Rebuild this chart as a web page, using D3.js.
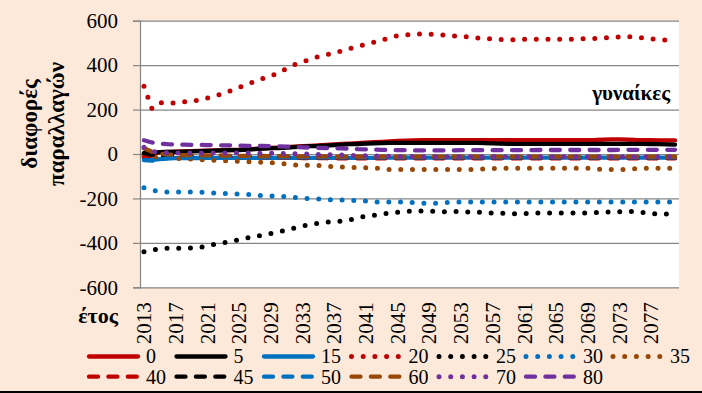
<!DOCTYPE html>
<html>
<head>
<meta charset="utf-8">
<script src="https://cdn.jsdelivr.net/npm/d3@7"></script>
<style>
  html, body { margin: 0; padding: 0; background: #FDE9D9; }
  svg { display: block; }
  svg text { font-family: "Liberation Serif", "Times New Roman", serif; }
</style>
</head>
<body>
<svg id="chart" width="702" height="393"></svg>
<script>
// ---------- DATA ----------
const years = [2013,2014,2015,2016,2017,2018,2019,2020,2021,2022,
  2023,2024,2025,2026,2027,2028,2029,2030,2031,2032,
  2033,2034,2035,2036,2037,2038,2039,2040,2041,2042,
  2043,2044,2045,2046,2047,2048,2049,2050,2051,2052,
  2053,2054,2055,2056,2057,2058,2059,2060,2061,2062,
  2063,2064,2065,2066,2067,2068,2069,2070,2071,2072,
  2073,2074,2075,2076,2077,2078,2079,2080];

const yTicks = [600, 400, 200, 0, -200, -400, -600];
const seriesNames = ["0","5","15","20","25","30","35","40","45","50","60","70","80"];

const s0 = [-12,2,8,10,11,12,13,14,15,16, 17,18,19,21,23,25,27,29,31,33,
  35,37,39,41,43,45,47,49,51,53, 55,57,59,60,61,62,62,62,62,62,
  62,62,62,62,62,62,62,62,62,62, 62,62,62,62,62,62,62,63,65,66,
  66,65,63,62,62,61,61,61];
const s5 = [0,5,8,9,10,11,12,13,14,15, 16,17,18,20,22,24,26,27,29,31,
  33,35,36,38,40,42,44,45,47,48, 49,50,50,50,50,50,50,50,50,50,
  50,50,50,49,48,47,46,46,46,46, 46,46,46,46,46,46,46,46,46,46,
  46,46,46,46,45,44,43,42];
const s15 = [-20,-26,-23,-20,-19,-18,-18,-18,-17,-17, -17,-17,-17,-17,-17,-17,-17,-17,-17,-17,
  -17,-17,-17,-17,-17,-17,-17,-17,-17,-17, -16,-16,-16,-16,-16,-16,-16,-16,-16,-16,
  -16,-16,-16,-16,-16,-16,-16,-16,-16,-16, -16,-16,-16,-16,-16,-16,-16,-16,-16,-16,
  -16,-16,-16,-16,-16,-16,-16,-16];
const s20 = [305,205,232,228,231,235,238,243,252,262, 272,286,300,314,327,340,351,366,385,402,
  414,426,438,447,454,465,475,485,494,503, 512,524,532,536,539,540,540,538,535,532,
  530,527,523,520,517,515,514,515,516,516, 516,516,516,516,517,518,519,520,522,524,
  527,528,526,522,518,515,512,510];
const s25 = [-440,-432,-426,-424,-424,-424,-423,-421,-413,-406, -400,-394,-385,-378,-373,-365,-358,-350,-342,-333,
  -324,-318,-312,-307,-304,-302,-296,-287,-280,-276, -271,-266,-262,-259,-257,-257,-257,-258,-260,-259,
  -259,-261,-261,-263,-266,-266,-267,-269,-268,-266, -266,-266,-266,-266,-266,-266,-266,-264,-261,-261,
  -260,-257,-260,-263,-268,-270,-270,-270];
const s30 = [-152,-163,-168,-171,-171,-171,-171,-171,-173,-176, -178,-179,-180,-182,-184,-188,-189,-190,-192,-195,
  -198,-202,-202,-204,-207,-207,-209,-210,-212,-215, -217,-216,-216,-217,-219,-221,-222,-221,-219,-216,
  -216,-216,-216,-216,-216,-216,-216,-216,-216,-216, -216,-216,-216,-216,-216,-216,-216,-216,-216,-216,
  -216,-216,-216,-216,-216,-216,-216,-216];
const s35 = [-5,-12,-15,-17,-19,-21,-23,-25,-27,-28, -30,-31,-33,-35,-36,-38,-39,-41,-45,-49,
  -50,-51,-52,-55,-57,-59,-61,-61,-62,-62, -66,-70,-70,-70,-70,-70,-70,-70,-70,-70,
  -70,-70,-68,-67,-65,-64,-64,-64,-64,-64, -64,-64,-64,-64,-64,-64,-64,-67,-70,-70,
  -70,-70,-66,-64,-64,-64,-64,-64];
const s40 = [-15,-6,-8,-9,-10,-10,-11,-11,-12,-12, -13,-13,-14,-14,-15,-15,-16,-16,-17,-17,
  -18,-18,-19,-19,-20,-20,-20,-20,-20,-20, -20,-20,-20,-20,-20,-20,-20,-20,-20,-20,
  -20,-20,-20,-20,-20,-20,-20,-20,-20,-20, -20,-20,-20,-20,-20,-20,-20,-20,-20,-20,
  -20,-20,-20,-20,-20,-20,-20,-20];
const s45 = [5,-4,-6,-7,-8,-8,-9,-9,-10,-10, -11,-11,-11,-12,-12,-12,-13,-13,-13,-14,
  -14,-14,-14,-14,-14,-14,-14,-14,-14,-14, -14,-14,-14,-14,-14,-14,-14,-14,-14,-14,
  -14,-14,-14,-14,-14,-14,-14,-14,-14,-14, -14,-14,-14,-14,-14,-14,-14,-14,-14,-14,
  -14,-14,-14,-14,-14,-14,-14,-14];
const s50 = [-28,-30,-25,-19,-17,-16,-15,-15,-15,-15, -15,-15,-15,-15,-15,-15,-15,-15,-15,-15,
  -15,-15,-15,-15,-15,-15,-15,-15,-15,-15, -15,-15,-15,-15,-15,-15,-15,-15,-15,-15,
  -15,-15,-15,-15,-15,-15,-15,-15,-15,-15, -15,-15,-15,-15,-15,-15,-15,-15,-15,-15,
  -15,-15,-15,-15,-15,-15,-15,-15];
const s60 = [26,10,2,-2,-4,-5,-5,-6,-6,-6, -7,-7,-8,-8,-9,-9,-10,-10,-10,-10,
  -11,-11,-11,-11,-12,-12,-12,-12,-12,-12, -12,-12,-12,-12,-12,-12,-12,-12,-12,-12,
  -12,-12,-12,-12,-12,-12,-12,-12,-12,-12, -12,-12,-12,-12,-12,-12,-12,-12,-12,-12,
  -12,-12,-12,-12,-12,-12,-12,-12];
const s70 = [30,12,6,5,5,5,5,5,5,5, 4,4,4,4,4,3,3,3,2,1,
  0,-1,-2,-3,-4,-5,-6,-7,-8,-9, -10,-10,-11,-11,-12,-12,-12,-12,-12,-12,
  -12,-12,-12,-12,-12,-12,-12,-12,-12,-12, -12,-12,-12,-12,-12,-12,-12,-12,-12,-12,
  -12,-12,-12,-12,-12,-12,-12,-12];
const s80 = [62,52,46,44,43,42,41,41,40,40, 39,39,38,37,36,36,35,34,33,32,
  30,29,28,27,26,25,24,22,21,20, 19,18,17,17,16,16,16,16,16,16,
  17,17,17,17,17,17,17,17,17,17, 18,18,18,18,18,18,18,18,18,18,
  19,19,19,19,19,19,19,19];

const seriesValues = [s0,s5,s15,s20,s25,s30,s35,s40,s45,s50,s60,s70,s80];

// ---------- STYLES ----------
const RED = "#C00000", BLACK = "#000000", BLUE = "#0070C0", BROWN = "#974806", PURPLE = "#7030A0";
const styleFor = {
  "0":  {color: RED,    dash: "solid"},
  "5":  {color: BLACK,  dash: "solid"},
  "15": {color: BLUE,   dash: "solid"},
  "20": {color: RED,    dash: "dot"},
  "25": {color: BLACK,  dash: "dot"},
  "30": {color: BLUE,   dash: "dot"},
  "35": {color: BROWN,  dash: "dot"},
  "40": {color: RED,    dash: "dash"},
  "45": {color: BLACK,  dash: "dash"},
  "50": {color: BLUE,   dash: "dash"},
  "60": {color: BROWN,  dash: "dash"},
  "70": {color: PURPLE, dash: "dot"},
  "80": {color: PURPLE, dash: "dash"}
};
const dashArray = {solid: null, dot: "0 11.7", dash: "9 10.4"};
const widthFor = {solid: 4.3, dot: 5, dash: 4.3};
const FONT = '"Liberation Serif", "Times New Roman", serif';

// ---------- LAYOUT ----------
const svg = d3.select("#chart");
const W = 702, H = 393;
const plot = {left: 140, right: 679, top: 20.7, bottom: 287.3};

svg.append("rect").attr("x", 0).attr("y", 0).attr("width", W).attr("height", H).attr("fill", "#FDE9D9");
svg.append("rect").attr("x", 0).attr("y", H - 2).attr("width", W).attr("height", 2).attr("fill", "#000");

svg.append("rect")
  .attr("x", plot.left).attr("y", plot.top)
  .attr("width", plot.right - plot.left).attr("height", plot.bottom - plot.top)
  .attr("fill", "#FFFFFF");

const x = d3.scaleBand().domain(years).range([plot.left, plot.right]).padding(0);
const y = d3.scaleLinear().domain([-600, 600]).range([plot.bottom, plot.top]);

// gridlines
const grid = svg.append("g").attr("transform", `translate(${plot.left},0)`)
  .call(d3.axisLeft(y).tickValues(yTicks).tickSize(-(plot.right - plot.left)).tickFormat(""));
grid.select(".domain").remove();
grid.selectAll("line").attr("stroke", "#868686").attr("stroke-width", 1.2);

// y axis with tick marks and labels
const yAxis = svg.append("g").attr("transform", `translate(${plot.left},0)`)
  .call(d3.axisLeft(y).tickValues(yTicks).tickSize(7).tickPadding(15));
yAxis.attr("font-family", FONT);
yAxis.select(".domain").attr("stroke", "#868686").attr("stroke-width", 1.2);
yAxis.selectAll("line").attr("stroke", "#868686").attr("stroke-width", 1.2);
yAxis.selectAll("text").attr("font-size", 21).attr("fill", "#000")
  .text(d => d < 0 ? "-" + Math.abs(d) : String(d));

// x axis labels
const labelYears = years.filter((d, i) => i % 4 === 0);
const xAxis = svg.append("g").attr("transform", `translate(0,${plot.bottom})`)
  .call(d3.axisBottom(x).tickValues(labelYears).tickSize(0));
xAxis.attr("font-family", FONT);
xAxis.select(".domain").remove();
xAxis.selectAll("text")
  .attr("font-size", 21).attr("fill", "#000")
  .attr("transform", "rotate(-90)")
  .attr("x", -15).attr("y", 0).attr("dy", "0.34em")
  .style("text-anchor", "end");

// lines
const line = d3.line().x((d, i) => x(years[i]) + x.bandwidth() / 2).y(d => y(d));
const linesG = svg.append("g");
seriesNames.forEach((name, k) => {
  const st = styleFor[name];
  linesG.append("path")
    .datum(seriesValues[k])
    .attr("d", line)
    .attr("fill", "none")
    .attr("stroke", st.color)
    .attr("stroke-width", widthFor[st.dash])
    .attr("stroke-linecap", "round")
    .attr("stroke-linejoin", "round")
    .attr("stroke-dasharray", dashArray[st.dash]);
});

// annotation
svg.append("text").attr("x", 670).attr("y", 100).attr("text-anchor", "end")
  .attr("font-family", FONT)
  .attr("font-size", 21).attr("font-weight", "bold").text("γυναίκες");

// axis titles
const yt = svg.append("text")
  .attr("font-family", FONT)
  .attr("font-size", 23).attr("font-weight", "bold").attr("text-anchor", "middle")
  .attr("transform", "rotate(-90)");
yt.append("tspan").attr("x", -124).attr("y", 37).text("διαφορές");
yt.append("tspan").attr("x", -124).attr("y", 64).text("παραλλαγών");

svg.append("text").attr("x", 118).attr("y", 323).attr("text-anchor", "end")
  .attr("font-family", FONT)
  .attr("font-size", 22).attr("font-weight", "bold").text("έτος");

// legend
const legendX = [87, 174.5, 262, 349.5, 437, 524, 611];
const legendRows = [356.5, 376.7];
const legendG = svg.append("g").attr("font-family", FONT);
seriesNames.forEach((name, k) => {
  const row = k < 7 ? 0 : 1;
  const col = k < 7 ? k : k - 7;
  const st = styleFor[name];
  const lx = legendX[col], ly = legendRows[row];
  const x0 = lx + 2;
  const x1 = lx + 51;
  legendG.append("path")
    .attr("d", d3.line()([[x0, ly], [x1, ly]]))
    .attr("stroke", st.color)
    .attr("stroke-width", widthFor[st.dash])
    .attr("stroke-linecap", "round")
    .attr("stroke-dasharray", dashArray[st.dash]);
  legendG.append("text")
    .attr("x", lx + 59).attr("y", ly).attr("dy", "0.34em")
    .attr("font-size", 20).attr("fill", "#000")
    .text(name);
});
</script>
</body>
</html>
